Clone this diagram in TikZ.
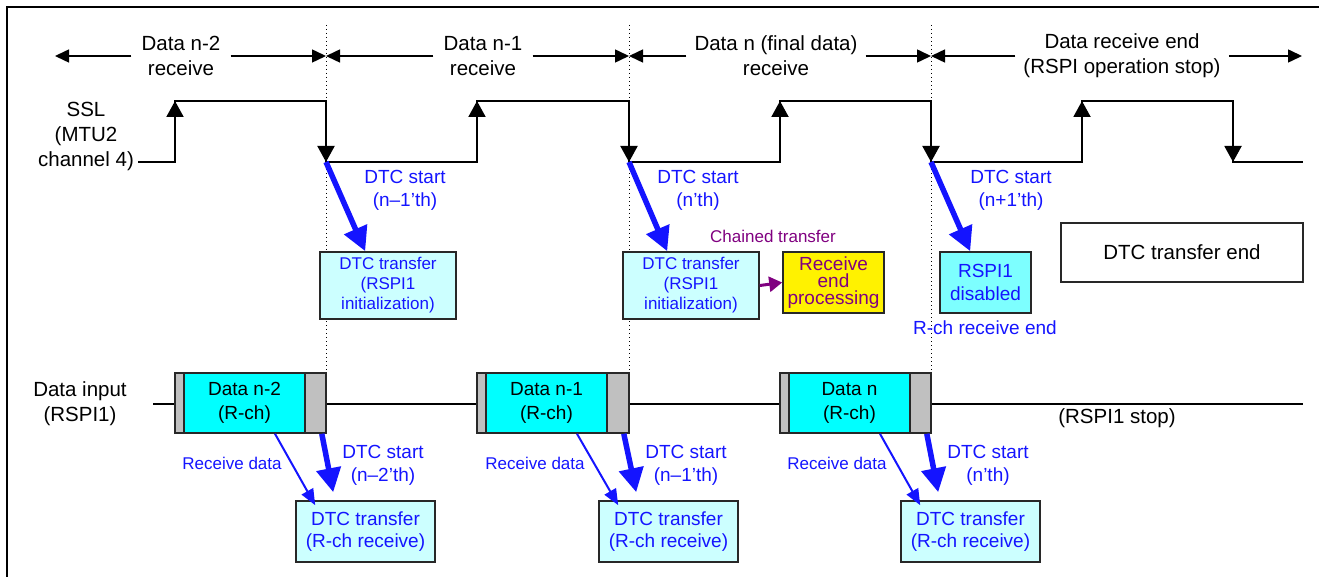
\documentclass[tikz,border=0pt]{standalone}
\usepackage{fontspec}
\setmainfont{Liberation Sans}
\usetikzlibrary{arrows.meta,calc}
\definecolor{dtcblue}{RGB}{20,20,255}
\definecolor{pale}{RGB}{204,255,255}
\definecolor{aqua}{RGB}{0,255,255}
\definecolor{midaqua}{RGB}{125,255,255}
\definecolor{chain}{RGB}{128,0,128}
\definecolor{endgray}{RGB}{192,192,192}
\definecolor{rim}{RGB}{40,40,40}
\begin{document}
\begin{tikzpicture}[x=1pt, y=-1pt, line join=miter,
	lbl/.style={align=center, inner sep=0pt, font=\fontsize{20.5}{25}\selectfont},
	period/.style={lbl, inner xsep=10pt},
	bluelbl/.style={align=center, inner sep=0pt, text=dtcblue, font=\fontsize{19}{23}\selectfont},
	smalllbl/.style={inner sep=0pt, font=\fontsize{17}{20}\selectfont},
	dtcbox/.style={draw=rim, line width=1.6pt, fill=pale, text=dtcblue, align=center, inner sep=0pt},
	databox/.style={draw=rim, line width=1.6pt, fill=aqua, align=center, inner sep=0pt, minimum width=121pt, minimum height=60pt, font=\fontsize{19}{24}\selectfont},
	guide/.style={line width=1pt, dash pattern=on 1pt off 3pt},
	wave/.style={line width=2pt},
	edgetip/.style={-{Triangle[width=17pt,length=16pt]}},
	spanarrow/.style={line width=1.5pt, -{Triangle[width=13pt,length=14pt]}},
	fatarrow/.style={draw=dtcblue, line width=5.5pt, -{Triangle[width=24pt,length=24pt]}},
	thinarrow/.style={draw=dtcblue, line width=2pt, -{Triangle[width=13pt,length=16pt]}},
	chainarrow/.style={draw=chain, line width=3pt, -{Triangle[width=15pt,length=13pt]}}]
	\useasboundingbox (0,0) rectangle (1319,577);
	\def\lo{162}\def\hi{101}
	\draw[line width=2pt] (7,577) -- (7,7) -- (1319,7);
	\foreach \x in {326,629,931} \draw[guide] (\x,25) -- (\x,373);
	% receive periods
	\foreach \i/\x in {0/55,1/326,2/629,3/931,4/1302} \coordinate (m\i) at (\x,56);
	\node[period] (p1) at (181,56) {Data n-2\\receive};
	\node[period] (p2) at (483,56) {Data n-1\\receive};
	\node[period, inner xsep=8pt] (p3) at (776,56) {Data n (final data)\\receive};
	\node[period, inner xsep=8pt] (p4) at (1122,56) {Data receive end\\(RSPI operation stop)};
	\draw[spanarrow] (p1.west) -- (m0); \draw[spanarrow] (p1.east) -- (m1);
	\draw[spanarrow] (p2.west) -- (m1); \draw[spanarrow] (p2.east) -- (m2);
	\draw[spanarrow] (p3.west) -- (m2); \draw[spanarrow] (p3.east) -- (m3);
	\draw[spanarrow] (p4.west) -- (m3); \draw[spanarrow] (p4.east) -- (m4);
	% SSL waveform
	\node[lbl] (ssl) at (86,136) {SSL\\(MTU2\\channel 4)};
	\draw[wave] (138,\lo) -| (175,\hi) -| (326,\lo) -| (477,\hi) -| (629,\lo) -| (780,\hi) -| (931,\lo) -| (1082,\hi) -| (1233,\lo) -- (1303,\lo);
	\foreach \x in {175,477,780,1082} \draw[wave,edgetip] (\x,\lo) -- (\x,\hi);
	\foreach \x in {326,629,931,1233} \draw[wave,edgetip] (\x,\hi) -- (\x,\lo);
	\foreach \i/\x in {1/326,2/629,3/931} \coordinate (f\i) at (\x,\lo);
	% DTC transfers at the falling edges
	\node[dtcbox, minimum width=136pt, minimum height=67pt, font=\fontsize{17}{20}\selectfont] (t1) at (388,285.5) {DTC transfer\\(RSPI1\\initialization)};
	\node[dtcbox, minimum width=136pt, minimum height=67pt, font=\fontsize{17}{20}\selectfont] (t2) at (691,285.5) {DTC transfer\\(RSPI1\\initialization)};
	\node[dtcbox, fill=yellow, text=chain, minimum width=101pt, minimum height=61pt, font=\fontsize{19}{17}\selectfont] (y) at (833.5,282.5) {Receive\\end\\processing};
	\node[dtcbox, fill=midaqua, minimum width=91pt, minimum height=61pt, font=\fontsize{19}{23}\selectfont] (t3) at (985.5,282.5) {RSPI1\\disabled};
	\node[bluelbl] (s1) at (405,190) {DTC start\\(n–1’th)};
	\node[bluelbl] (s2) at (698,190) {DTC start\\(n’th)};
	\node[bluelbl] (s3) at (1011,190) {DTC start\\(n+1’th)};
	\draw[fatarrow] (f1) -- ($(t1.north west)+(46,0)$);
	\draw[fatarrow] (f2) -- ($(t2.north west)+(45,0)$);
	\draw[fatarrow] (f3) -- ($(t3.north west)+(31,0)$);
	\node[smalllbl, text=chain] (ch) at (773,236) {Chained transfer};
	\draw[chainarrow] (t2.east) -- (y.west);
	\node[bluelbl] (re) at (985,328) {R-ch receive end};
	\node[draw=rim, line width=1.6pt, fill=white, minimum width=242pt, minimum height=59pt, inner sep=0pt, font=\fontsize{20.5}{25}\selectfont] (te) at (1182,252.5) {DTC transfer end};
	% data input
	\node[lbl] (din) at (80,404) {Data input\\(RSPI1)};
	\draw[line width=1.5pt] (153,404) -- (1303,404);
	\node[lbl] (stop) at (1117,418) {(RSPI1 stop)};
	\foreach \i/\r/\f/\n/\k in {1/175/326/n-2/n–2,2/477/629/n-1/n–1,3/780/931/n/n}{
		\filldraw[fill=endgray, draw=rim, line width=1.6pt] (\r,373) rectangle (\f,433);
		\node[databox] (d\i) at ({\r+69.5},403) {Data \n\\(R-ch)};
		\node[dtcbox, minimum width=139pt, minimum height=61pt, font=\fontsize{19}{22}\selectfont] (r\i) at ({\f+39.5},531.5) {DTC transfer\\(R-ch receive)};
		\draw[thinarrow] ($(d\i.south)+(30.5,0)$) -- ($(r\i.north west)+(20,5)$);
		\draw[fatarrow] ($(d\i.south east)+(16,0)$) -- ($(r\i.north west)+(38,-8)$);
		\node[smalllbl, text=dtcblue] (rd\i) at ({\f-94},463) {Receive data};
		\node[bluelbl] (ls\i) at ({\f+57},465) {DTC start\\(\k’th)};
	}
\end{tikzpicture}
\end{document}
